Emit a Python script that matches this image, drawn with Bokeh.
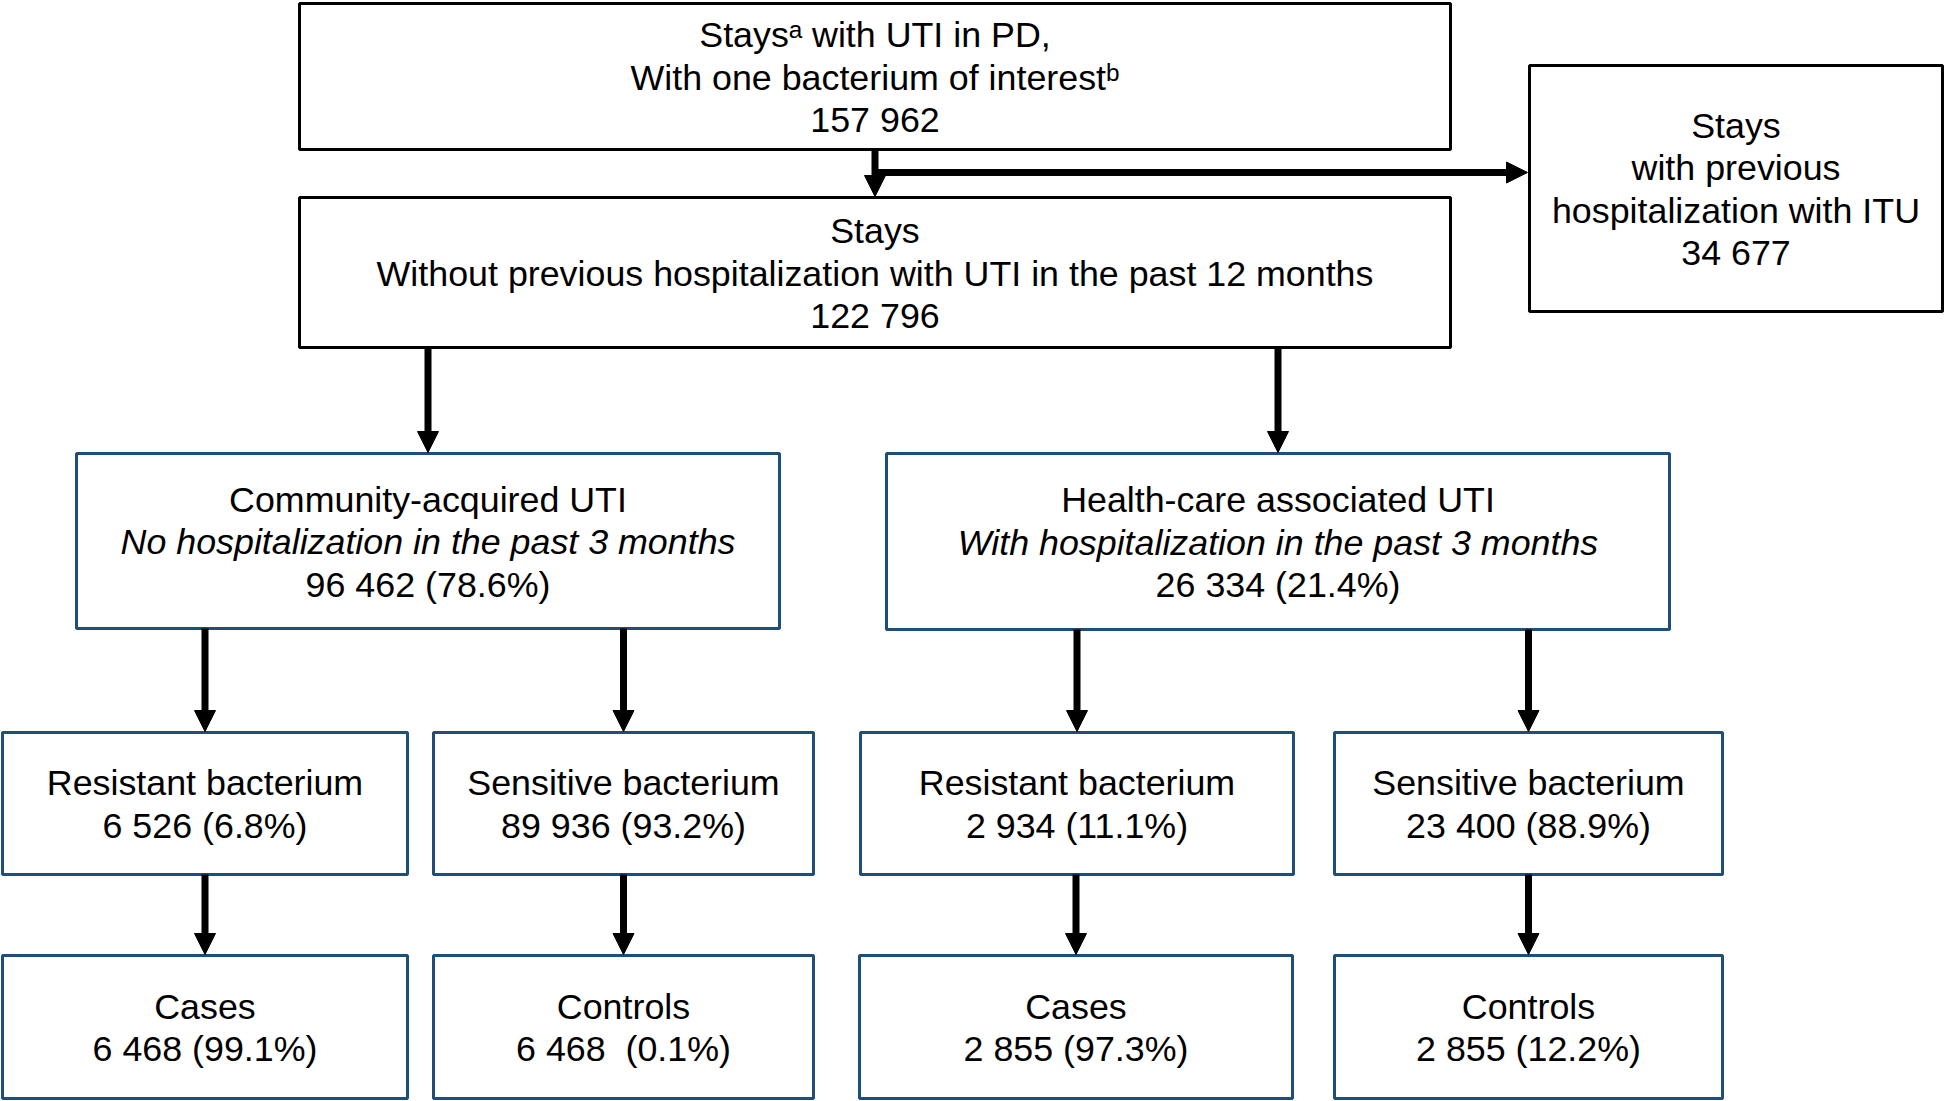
from bokeh.plotting import figure
from bokeh.models import Range1d, Arrow, NormalHead, ColumnDataSource
from bokeh.embed import file_html
from bokeh.resources import INLINE
from bokeh.core.properties import value

# ---------------- data (texts & counts) ----------------
box_ids = ["all", "no_prev", "prev", "community", "health",
           "res_c", "sens_c", "res_h", "sens_h",
           "cases_c", "ctrl_c", "cases_h", "ctrl_h"]

box_titles = [
    ["Stays\u1d43 with UTI in PD,", "With one bacterium of interest\u1d47"],
    ["Stays", "Without previous hospitalization with UTI in the past 12 months"],
    ["Stays", "with previous", "hospitalization with ITU"],
    ["Community-acquired UTI"],
    ["Health-care associated UTI"],
    ["Resistant bacterium"],
    ["Sensitive bacterium"],
    ["Resistant bacterium"],
    ["Sensitive bacterium"],
    ["Cases"],
    ["Controls"],
    ["Cases"],
    ["Controls"],
]
box_subtitles = ["", "", "",
                 "No hospitalization in the past 3 months",
                 "With hospitalization in the past 3 months",
                 "", "", "", "", "", "", "", ""]
box_counts = ["157 962", "122 796", "34 677",
              "96 462 (78.6%)", "26 334 (21.4%)",
              "6 526 (6.8%)", "89 936 (93.2%)",
              "2 934 (11.1%)", "23 400 (88.9%)",
              "6 468 (99.1%)", "6 468\u00a0 (0.1%)",
              "2 855 (97.3%)", "2 855 (12.2%)"]

# flow links: (from, to)
links = [("all", "no_prev"), ("all", "prev"),
         ("no_prev", "community"), ("no_prev", "health"),
         ("community", "res_c"), ("community", "sens_c"),
         ("health", "res_h"), ("health", "sens_h"),
         ("res_c", "cases_c"), ("sens_c", "ctrl_c"),
         ("res_h", "cases_h"), ("sens_h", "ctrl_h")]

# ---------------- layout (pixel geometry) ----------------
geom = {  # left, right, top, bottom
    "all":       (299, 1450, 3, 149),
    "no_prev":   (299, 1450, 197, 347),
    "prev":      (1529, 1942, 65, 311),
    "community": (76, 779, 453, 628),
    "health":    (886, 1669, 453, 629),
    "res_c":     (2, 407, 732, 874),
    "sens_c":    (433, 813, 732, 874),
    "res_h":     (860, 1293, 732, 874),
    "sens_h":    (1334, 1722, 732, 874),
    "cases_c":   (2, 407, 955, 1098),
    "ctrl_c":    (433, 813, 955, 1098),
    "cases_h":   (859, 1292, 955, 1098),
    "ctrl_h":    (1334, 1722, 955, 1098),
}
black_boxes = {"all", "no_prev", "prev"}
BLUE = "#1F4E79"
FONT = "Liberation Sans"
FS = "35.8px"
LINE_H = 42.5

W, H = 1946, 1101
p = figure(width=W, height=H, output_backend="svg", toolbar_location=None,
           x_range=Range1d(0, W), y_range=Range1d(H, 0),
           min_border=0, background_fill_color="white", border_fill_color="white")
p.axis.visible = False
p.grid.visible = False
p.outline_line_color = None

# boxes
for key in ["black", "blue"]:
    ids = [b for b in box_ids if (b in black_boxes) == (key == "black")]
    src = ColumnDataSource(dict(
        left=[geom[b][0] for b in ids], right=[geom[b][1] for b in ids],
        top=[geom[b][2] for b in ids], bottom=[geom[b][3] for b in ids]))
    p.quad(left="left", right="right", top="top", bottom="bottom", source=src,
           fill_color="white", line_color="black" if key == "black" else BLUE,
           line_width=3)

# texts
tx, ty, tt, ix, iy, it = [], [], [], [], [], []
for b, titles, sub, cnt in zip(box_ids, box_titles, box_subtitles, box_counts):
    l, r, t, bt = geom[b]
    lines = [(s, False) for s in titles]
    if sub:
        lines.append((sub, True))
    lines.append((cnt, False))
    n = len(lines)
    cx = (l + r) / 2
    cy = (t + bt) / 2 + 1
    for i, (s, ital) in enumerate(lines):
        y = cy + (i - (n - 1) / 2) * LINE_H
        if ital:
            ix.append(cx); iy.append(y); it.append(s)
        else:
            tx.append(cx); ty.append(y); tt.append(s)

p.text(x=tx, y=ty, text=tt, text_align="center", text_baseline="middle",
       text_font=value(FONT), text_font_size=FS, text_color="black")
p.text(x=ix, y=iy, text=it, text_align="center", text_baseline="middle",
       text_font=value(FONT), text_font_size=FS, text_color="black",
       text_font_style="italic")

# arrows
xs, ys, xe, ye = [], [], [], []
for a, b in links:
    la, ra, ta, ba = geom[a]
    lb, rb, tb, bb = geom[b]
    if lb > ra:  # side branch to the right
        x0 = (geom["all"][0] + geom["all"][1]) / 2
        y0 = (ba + geom["no_prev"][2]) / 2 - 1
        xs.append(x0 - 3); ys.append(y0); xe.append(lb - 2); ye.append(y0)
    else:
        x = (lb + rb) / 2
        xs.append(x); ys.append(ba); xe.append(x); ye.append(tb - 1)

asrc = ColumnDataSource(dict(x_start=xs, y_start=ys, x_end=xe, y_end=ye))
p.add_layout(Arrow(end=NormalHead(size=21, fill_color="black", line_color="black", line_width=1),
                   x_start="x_start", y_start="y_start", x_end="x_end", y_end="y_end",
                   source=asrc, line_width=7, line_color="black"))

open("out.html", "w").write(file_html(p, INLINE))
